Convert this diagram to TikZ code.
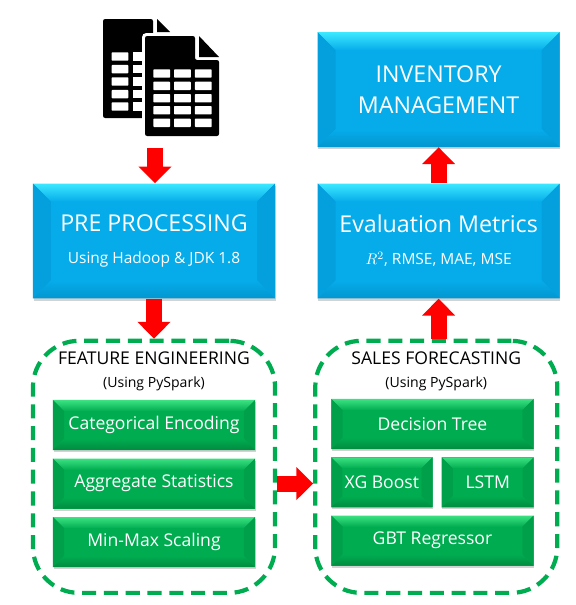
\documentclass[tikz,border=0pt]{standalone}
\usepackage{fontspec}
\setmainfont{Open Sans}
\usetikzlibrary{arrows.meta,positioning,shadows,calc}
\definecolor{skymain}{RGB}{6,172,234}
\definecolor{skytop}{RGB}{60,232,255}
\definecolor{skyside}{RGB}{4,160,222}
\definecolor{skylow}{RGB}{2,150,208}
\definecolor{leafmain}{RGB}{0,172,80}
\definecolor{leaftop}{RGB}{60,226,130}
\definecolor{leafside}{RGB}{0,160,74}
\definecolor{leaflow}{RGB}{0,140,64}
\newcommand{\bevelfaces}[5]{%
  % depth, main, top, side, low
  \fill[#2] (path picture bounding box.south west) rectangle (path picture bounding box.north east);
  \coordinate (bnw) at (path picture bounding box.north west);
  \coordinate (bne) at (path picture bounding box.north east);
  \coordinate (bsw) at (path picture bounding box.south west);
  \coordinate (bse) at (path picture bounding box.south east);
  \shade[top color=#3, bottom color=#2]
    (bnw) -- (bne) -- ([shift={(-#1,-#1)}]bne) -- ([shift={(#1,-#1)}]bnw) -- cycle;
  \fill[#4] (bnw) -- ([shift={(#1,-#1)}]bnw) -- ([shift={(#1,#1)}]bsw) -- (bsw) -- cycle;
  \fill[#4] (bne) -- ([shift={(-#1,-#1)}]bne) -- ([shift={(-#1,#1)}]bse) -- (bse) -- cycle;
  \shade[top color=#2, bottom color=#5]
    (bsw) -- (bse) -- ([shift={(-#1,#1)}]bse) -- ([shift={(#1,#1)}]bsw) -- cycle;
}
\tikzset{
  metricbox/.style={
    rectangle, minimum width=6.05cm, minimum height=2.87cm, align=center,
    text=white, font=\fontsize{16.5}{22}\selectfont, inner sep=0pt,
    drop shadow={shadow xshift=0.5pt, shadow yshift=-1.5pt, opacity=0.35},
    path picture={\bevelfaces{0.45cm}{skymain}{skytop}{skyside}{skylow}}
  },
  modelbox/.style={
    rectangle, minimum width=5.05cm, minimum height=1.25cm, align=center,
    text=white, font=\fontsize{12.5}{16}\selectfont, inner sep=0pt,
    drop shadow={shadow xshift=0.5pt, shadow yshift=-1.5pt, opacity=0.35},
    path picture={\bevelfaces{0.28cm}{leafmain}{leaftop}{leafside}{leaflow}}
  },
  groupbox/.style={
    rectangle, rounded corners=1.15cm, draw=leafmain, line width=3pt,
    dash pattern=on 10pt off 5.5pt, minimum width=6.05cm, minimum height=6.3cm
  },
  grouptitle/.style={align=center, text=black, inner sep=0pt,
    font=\fontsize{12.5}{16}\selectfont},
  flowarrow/.style={red, line width=0.4cm,
    -{Triangle[width=0.8cm,length=0.42cm]}}
}
\newcommand{\sheeticon}[2]{%
  \fill[black, rounded corners=1.2pt] (#1+0,#2+0) -- (#1+51,#2+0) -- (#1+51,#2+15)
    -- (#1+67,#2+15) -- (#1+74,#2+100) -- (#1+0,#2+100) -- cycle;
}
\begin{document}
\begin{tikzpicture}[x=0.025cm, y=-0.025cm]
  \useasboundingbox (0,0) rectangle (576,605);

  % source files, back sheet then front sheet
  \fill[black, rounded corners=1.5pt] (103,19) -- (153,19) -- (153,40) -- (170,40) -- (170,118) -- (103,118) -- cycle;
  \fill[black] (157,19) -- (170,32) -- (157,32) -- cycle;
  \foreach \ry in {52.3,64.9,77.3,89.9,102.3} {
    \fill[white, rounded corners=0.5pt] (111.7,\ry) rectangle (128.3,\ry+8.4);
    \fill[white] (132.7,\ry) rectangle (150,\ry+8.4);
  }
  \fill[white, rounded corners=3pt] (142,33) -- (199,33) -- (222,56) -- (222,139) -- (142,139) -- cycle;
  \fill[black, rounded corners=1.5pt] (145,36) -- (195,36) -- (195,60) -- (219,60) -- (219,136) -- (145,136) -- cycle;
  \fill[black] (199,36) -- (219,57) -- (199,57) -- cycle;
  \foreach \ry in {69.3,81.7,94,106,118.6} {
    \foreach \rx in {153.3,174,194.9} {
      \fill[white, rounded corners=0.5pt] (\rx,\ry) rectangle (\rx+16.8,\ry+8.4);
    }
  }
  \coordinate (files) at (155,148);

  \node[metricbox] (pre) at (154,241)
    {PRE PROCESSING\\[1pt]{\fontsize{11}{14}\selectfont Using Hadoop \& JDK 1.8}};
  \node[metricbox, right=1.05cm of pre] (eval)
    {Evaluation Metrics\\[1pt]{\fontsize{11}{14}\selectfont $R^2$, RMSE, MAE, MSE}};
  \node[metricbox, above=0.9cm of eval, text depth=0pt] (inv)
    {INVENTORY\\MANAGEMENT};

  \node[groupbox, below=1cm of pre] (fegroup) {};
  \node[groupbox, right=0.9cm of fegroup] (sfgroup) {};

  \node[grouptitle, below=0.32cm of fegroup.north] (fetitle)
    {FEATURE ENGINEERING\\{\fontsize{10}{13}\selectfont (Using PySpark)}};
  \node[grouptitle, below=0.32cm of sfgroup.north] (sftitle)
    {SALES FORECASTING\\{\fontsize{10}{13}\selectfont (Using PySpark)}};

  \node[modelbox] (cat) at (154,425) {Categorical Encoding};
  \node[modelbox, below=0.2cm of cat] (agg) {Aggregate Statistics};
  \node[modelbox, below=0.2cm of agg] (minmax) {Min-Max Scaling};

  \node[modelbox] (tree) at (432.5,424) {Decision Tree};
  \node[modelbox, minimum width=2.53cm, anchor=north west] (xgb) at (331,457) {XG Boost};
  \node[modelbox, minimum width=2.3cm, anchor=north east] (lstm) at (534,457) {LSTM};
  \node[modelbox, below=0.2cm of tree, yshift=-1.45cm] (gbt) {GBT Regressor};

  \draw[flowarrow] (files) -- (files |- pre.north);
  \draw[flowarrow] (pre.south) -- (fegroup.north);
  \draw[flowarrow] (fegroup.east |- agg) -- (sfgroup.west |- agg);
  \draw[flowarrow] (sfgroup.north -| eval.south) -- (eval.south);
  \draw[flowarrow] (eval.north) -- (inv.south);
\end{tikzpicture}
\end{document}
